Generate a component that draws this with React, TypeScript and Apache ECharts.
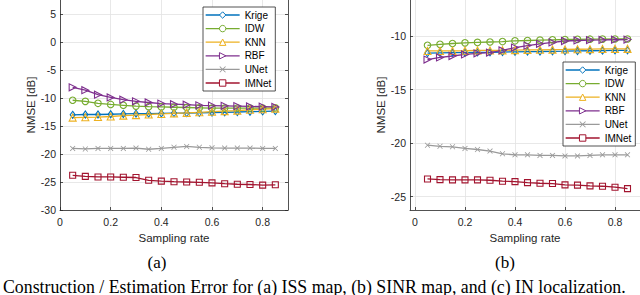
import React, { useEffect, useRef } from "react";
import * as echarts from "echarts";

// Sampling rates (x values)
const samplingRate = [0.05, 0.1, 0.15, 0.2, 0.25, 0.3, 0.35, 0.4, 0.45, 0.5, 0.55, 0.6, 0.65, 0.7, 0.75, 0.8, 0.85];
const seriesNames = ["Krige", "IDW", "KNN", "RBF", "UNet", "IMNet"];

// (a) ISS map NMSE [dB]
const issKrige = [-13.0, -12.95, -12.95, -12.9, -12.85, -12.8, -12.8, -12.75, -12.7, -12.7, -12.65, -12.6, -12.55, -12.5, -12.45, -12.4, -12.35];
const issIDW = [-10.4, -10.6, -10.95, -11.15, -11.3, -11.45, -11.55, -11.6, -11.65, -11.7, -11.75, -11.8, -11.8, -11.8, -11.8, -11.8, -11.75];
const issKNN = [-13.5, -13.45, -13.4, -13.3, -13.15, -13.05, -12.95, -12.85, -12.75, -12.65, -12.55, -12.45, -12.35, -12.25, -12.1, -12.0, -11.9];
const issRBF = [-8.1, -8.6, -9.4, -9.9, -10.3, -10.6, -10.8, -11.0, -11.1, -11.2, -11.3, -11.35, -11.4, -11.45, -11.5, -11.55, -11.6];
const issUNet = [-19.0, -19.1, -19.0, -19.0, -19.0, -18.95, -19.15, -19.0, -18.8, -18.65, -18.8, -18.9, -18.95, -18.95, -18.95, -19.0, -19.0];
const issIMNet = [-23.8, -24.0, -24.1, -24.1, -24.15, -24.2, -24.7, -24.85, -24.95, -25.0, -25.05, -25.15, -25.3, -25.4, -25.45, -25.55, -25.5];

// (b) SINR map NMSE [dB]
const sinrKrige = [-11.6, -11.58, -11.56, -11.55, -11.53, -11.52, -11.5, -11.48, -11.46, -11.45, -11.43, -11.42, -11.4, -11.38, -11.37, -11.35, -11.34];
const sinrIDW = [-10.87, -10.78, -10.7, -10.64, -10.6, -10.56, -10.52, -10.45, -10.42, -10.39, -10.36, -10.33, -10.31, -10.3, -10.29, -10.28, -10.28];
const sinrKNN = [-11.4, -11.4, -11.4, -11.38, -11.35, -11.35, -11.34, -11.32, -11.3, -11.29, -11.27, -11.26, -11.24, -11.23, -11.21, -11.2, -11.2];
const sinrRBF = [-12.2, -12.0, -11.87, -11.72, -11.62, -11.55, -11.35, -11.08, -10.9, -10.73, -10.6, -10.47, -10.42, -10.38, -10.37, -10.35, -10.34];
const sinrUNet = [-20.2, -20.3, -20.35, -20.5, -20.6, -20.75, -21.0, -21.1, -21.1, -21.15, -21.15, -21.2, -21.2, -21.15, -21.1, -21.1, -21.1];
const sinrIMNet = [-23.35, -23.41, -23.44, -23.44, -23.44, -23.47, -23.56, -23.6, -23.69, -23.75, -23.78, -23.9, -23.93, -24.0, -24.03, -24.12, -24.25];

// Tick values
const xTicks = [0, 0.2, 0.4, 0.6, 0.8];
const yTicksA = [-30, -25, -20, -15, -10, -5, 0, 5];
const yTicksB = [-25, -20, -15, -10];

const captionA = "(a)";
const captionB = "(b)";
const figCaption = "Construction / Estimation Error for (a) ISS map, (b) SINR map, and (c) IN localization.";

const AXIS = "#262626";
const GRIDC = "#e2e2e2";
const FONT = '"Liberation Sans", Arial, Helvetica, sans-serif';
const SERIF = '"Liberation Serif", "Times New Roman", serif';
const XMARK = "path://M0,1 L1,0 L5,4 L9,0 L10,1 L6,5 L10,9 L9,10 L5,6 L1,10 L0,9 L4,5 Z";

const styles: Record<string, any> = {
  Krige: { color: "#0072BD", symbol: "diamond", size: [5, 7], rotate: 0, hollow: true },
  IDW: { color: "#77AC30", symbol: "circle", size: 6.5, rotate: 0, hollow: true },
  KNN: { color: "#EDB120", symbol: "triangle", size: 7, rotate: 0, hollow: true },
  RBF: { color: "#7E2F8E", symbol: "triangle", size: 7, rotate: -90, hollow: true },
  UNet: { color: "#9a9a9a", symbol: XMARK, size: 5.5, rotate: 0, hollow: false },
  IMNet: { color: "#A2142F", symbol: "rect", size: 6, rotate: 0, hollow: true },
};

function markerStyle(name: string) {
  const s = styles[name];
  return s.hollow
    ? { color: "rgba(255,255,255,0)", borderColor: s.color, borderWidth: 1.1 }
    : { color: s.color, borderColor: s.color, borderWidth: 0 };
}

function makeSeries(name: string, vals: number[], xi: number, yi: number) {
  const s = styles[name];
  return {
    type: "line",
    name,
    xAxisIndex: xi,
    yAxisIndex: yi,
    data: samplingRate.map((x, i) => [x, vals[i]]),
    symbol: s.symbol,
    symbolSize: s.size,
    symbolRotate: s.rotate,
    showAllSymbol: true,
    lineStyle: { color: s.color, width: 1.3 },
    itemStyle: markerStyle(name),
    emphasis: { disabled: true },
    silent: true,
    clip: false,
  };
}

function xAxisCfg(gridIndex: number, min: number, max: number) {
  return {
    type: "value",
    gridIndex,
    min,
    max,
    name: "Sampling rate",
    nameLocation: "middle",
    nameGap: 19,
    nameTextStyle: { fontFamily: FONT, fontSize: 11.5, color: AXIS },
    axisLine: { show: true, onZero: false, lineStyle: { color: AXIS, width: 0.8 } },
    axisTick: { show: true, inside: true, length: 3, customValues: xTicks, lineStyle: { color: AXIS, width: 0.8 } },
    axisLabel: { show: true, customValues: xTicks, margin: 6, fontFamily: FONT, fontSize: 10.5, color: AXIS },
    splitLine: { show: true, lineStyle: { color: GRIDC, width: 0.8 } },
  };
}

function yAxisCfg(gridIndex: number, min: number, max: number, ticks: number[], nameGap: number) {
  return {
    type: "value",
    gridIndex,
    min,
    max,
    name: "NMSE [dB]",
    nameLocation: "middle",
    nameGap,
    nameRotate: 90,
    nameTextStyle: { fontFamily: FONT, fontSize: 11.5, color: AXIS },
    axisLine: { show: true, onZero: false, lineStyle: { color: AXIS, width: 0.8 } },
    axisTick: { show: true, inside: true, length: 3, customValues: ticks, lineStyle: { color: AXIS, width: 0.8 } },
    axisLabel: { show: true, customValues: ticks, margin: 4, fontFamily: FONT, fontSize: 10.5, color: AXIS },
    splitLine: { show: true, lineStyle: { color: GRIDC, width: 0.8 } },
  };
}

function legendCfg(left: number, top: number) {
  return {
    show: true,
    orient: "vertical",
    left,
    top,
    data: seriesNames.map((n) => {
      const s = styles[n];
      return {
        name: n,
        itemStyle: s.hollow
          ? { color: "#ffffff", borderColor: s.color, borderWidth: 1 }
          : { color: s.color, borderColor: s.color, borderWidth: 0 },
        lineStyle: { color: s.color, width: 1.3 },
      };
    }),
    itemWidth: 34,
    itemHeight: 8,
    itemGap: 3.6,
    padding: [3, 4, 3, 2],
    borderColor: AXIS,
    borderWidth: 0.8,
    borderRadius: 0,
    backgroundColor: "#ffffff",
    selectedMode: false,
    textStyle: { fontFamily: FONT, fontSize: 10, color: "#000" },
  };
}

export default function App() {
  const ref = useRef<HTMLDivElement>(null);
  useEffect(() => {
    if (!ref.current) return;
    const chart = echarts.init(ref.current, undefined, { renderer: "svg" });
    const seriesA = [issKrige, issIDW, issKNN, issRBF, issUNet, issIMNet].map((v, i) => makeSeries(seriesNames[i], v, 0, 0));
    const seriesB = [sinrKrige, sinrIDW, sinrKNN, sinrRBF, sinrUNet, sinrIMNet].map((v, i) => makeSeries(seriesNames[i], v, 1, 2));
    const option: any = {
      animation: false,
      backgroundColor: "#ffffff",
      grid: [
        { left: 60, top: 0, width: 228, height: 210 },
        { left: 410, top: 0, width: 230, height: 210 },
      ],
      xAxis: [xAxisCfg(0, 0, 0.9), xAxisCfg(1, -0.02, 0.9)],
      yAxis: [
        yAxisCfg(0, -30, 7.5, yTicksA, 22),
        {
          type: "value",
          gridIndex: 0,
          position: "right",
          min: -30,
          max: 7.5,
          axisLine: { show: true, onZero: false, lineStyle: { color: AXIS, width: 0.8 } },
          axisTick: { show: true, inside: true, length: 3, customValues: yTicksA, lineStyle: { color: AXIS, width: 0.8 } },
          axisLabel: { show: false },
          splitLine: { show: false },
        },
        yAxisCfg(1, -26.25, -6.64, yTicksB, 20),
      ],
      legend: [legendCfg(203, 7), legendCfg(563, 62)],
      series: [...seriesA, ...seriesB],
      graphic: [
        {
          type: "text",
          x: 157,
          y: 262,
          style: { text: captionA, font: `17px ${SERIF}`, fill: "#000", align: "center", verticalAlign: "middle" },
        },
        {
          type: "text",
          x: 505,
          y: 262,
          style: { text: captionB, font: `17px ${SERIF}`, fill: "#000", align: "center", verticalAlign: "middle" },
        },
        {
          type: "text",
          x: 3,
          y: 286.5,
          style: { text: figCaption, font: `17.8px ${SERIF}`, fill: "#000", align: "left", verticalAlign: "middle" },
        },
      ],
    };
    chart.setOption(option);
    return () => chart.dispose();
  }, []);
  return (
    <div
      ref={ref}
      style={{ position: "fixed", left: 0, top: 0, width: 640, height: 295, background: "#fff" }}
    />
  );
}
